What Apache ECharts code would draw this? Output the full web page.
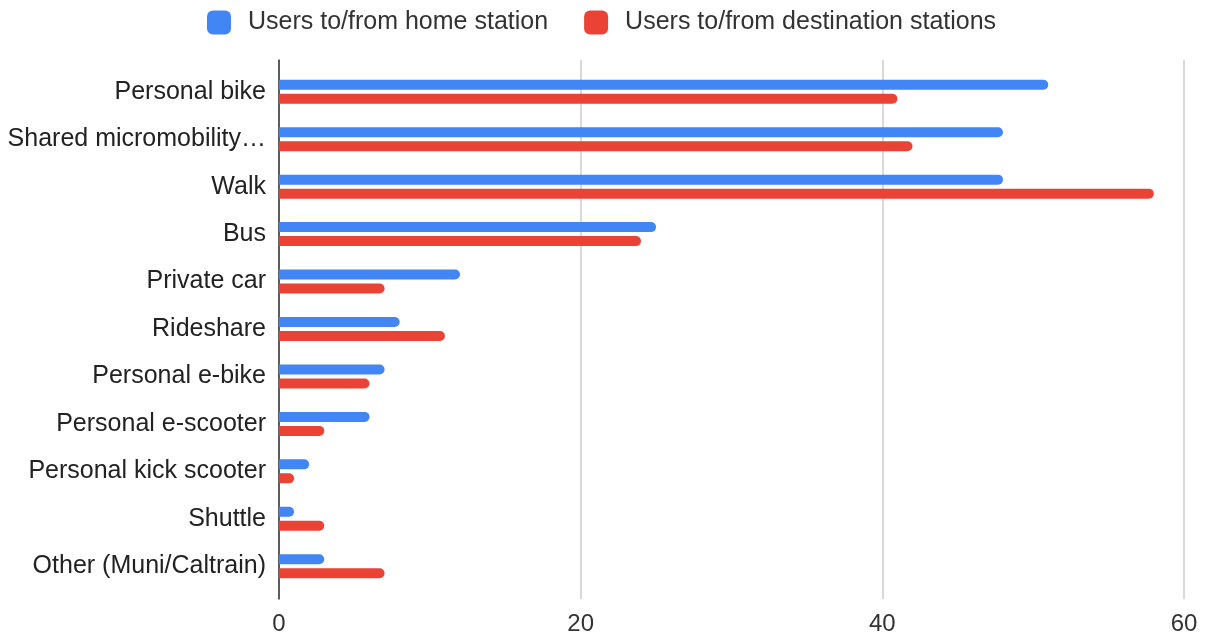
<!DOCTYPE html>
<html>
<head>
<meta charset="utf-8">
<script src="https://cdn.jsdelivr.net/npm/echarts@6/dist/echarts.min.js"></script>
<style>
  html, body { margin: 0; padding: 0; background: #fff; }
  #chart { width: 1213px; height: 637px; }
</style>
</head>
<body>
<div id="chart"></div>
<script>
// Access modes used to reach the stations
const categories = [
  'Personal bike',
  'Shared micromobility…',
  'Walk',
  'Bus',
  'Private car',
  'Rideshare',
  'Personal e-bike',
  'Personal e-scooter',
  'Personal kick scooter',
  'Shuttle',
  'Other (Muni/Caltrain)'
];
const homeStation = [51, 48, 48, 25, 12, 8, 7, 6, 2, 1, 3];
const destinationStations = [41, 42, 58, 24, 7, 11, 6, 3, 1, 3, 7];
const xTicks = [0, 20, 40, 60];

const FONT = '"Liberation Sans", Arial, sans-serif';
const chart = echarts.init(document.getElementById('chart'));

const xMin = xTicks[0], xMax = xTicks[xTicks.length - 1], xStep = xTicks[1] - xTicks[0];

chart.setOption({
  animation: false,
  textStyle: { fontFamily: FONT },
  legend: {
    top: 5,
    left: 202,
    itemWidth: 24,
    itemHeight: 24,
    itemGap: 36,
    icon: 'roundRect',
    textStyle: { fontSize: 25, color: '#333', fontFamily: FONT, padding: [0, 0, 0, 12] },
    data: ['Users to/from home station', 'Users to/from destination stations']
  },
  grid: [
    // bars
    { left: 279, right: 29, top: 68, bottom: 47 },
    // frame: gridlines, value labels and the zero line
    { left: 279, right: 29, top: 60, bottom: 38 }
  ],
  xAxis: [
    {
      gridIndex: 0, type: 'value', min: xMin, max: xMax, interval: xStep,
      axisLine: { show: false }, axisTick: { show: false },
      axisLabel: { show: false }, splitLine: { show: false }
    },
    {
      gridIndex: 1, type: 'value', min: xMin, max: xMax, interval: xStep,
      axisLine: { show: false }, axisTick: { show: false },
      axisLabel: { show: true, fontSize: 24, color: '#333', margin: 13, fontFamily: FONT },
      splitLine: { show: true, lineStyle: { color: '#cccccc', width: 1.5 } }
    }
  ],
  yAxis: [
    {
      gridIndex: 0, type: 'category', data: categories, inverse: true,
      axisLine: { show: false }, axisTick: { show: false },
      axisLabel: { fontSize: 25, color: '#222', margin: 13, fontFamily: FONT }
    },
    {
      gridIndex: 1, type: 'value', min: 0, max: 1,
      axisLine: { show: true, onZero: false, lineStyle: { color: '#333', width: 1.5 } },
      axisTick: { show: false }, axisLabel: { show: false }, splitLine: { show: false }
    }
  ],
  series: [
    {
      name: 'Users to/from home station',
      type: 'bar', xAxisIndex: 0, yAxisIndex: 0,
      data: homeStation,
      barWidth: 10, barGap: '40%',
      itemStyle: { color: '#4285F4', borderRadius: [0, 5, 5, 0] }
    },
    {
      name: 'Users to/from destination stations',
      type: 'bar', xAxisIndex: 0, yAxisIndex: 0,
      data: destinationStations,
      barWidth: 10, barGap: '40%',
      itemStyle: { color: '#EA4335', borderRadius: [0, 5, 5, 0] }
    }
  ]
});
</script>
</body>
</html>
